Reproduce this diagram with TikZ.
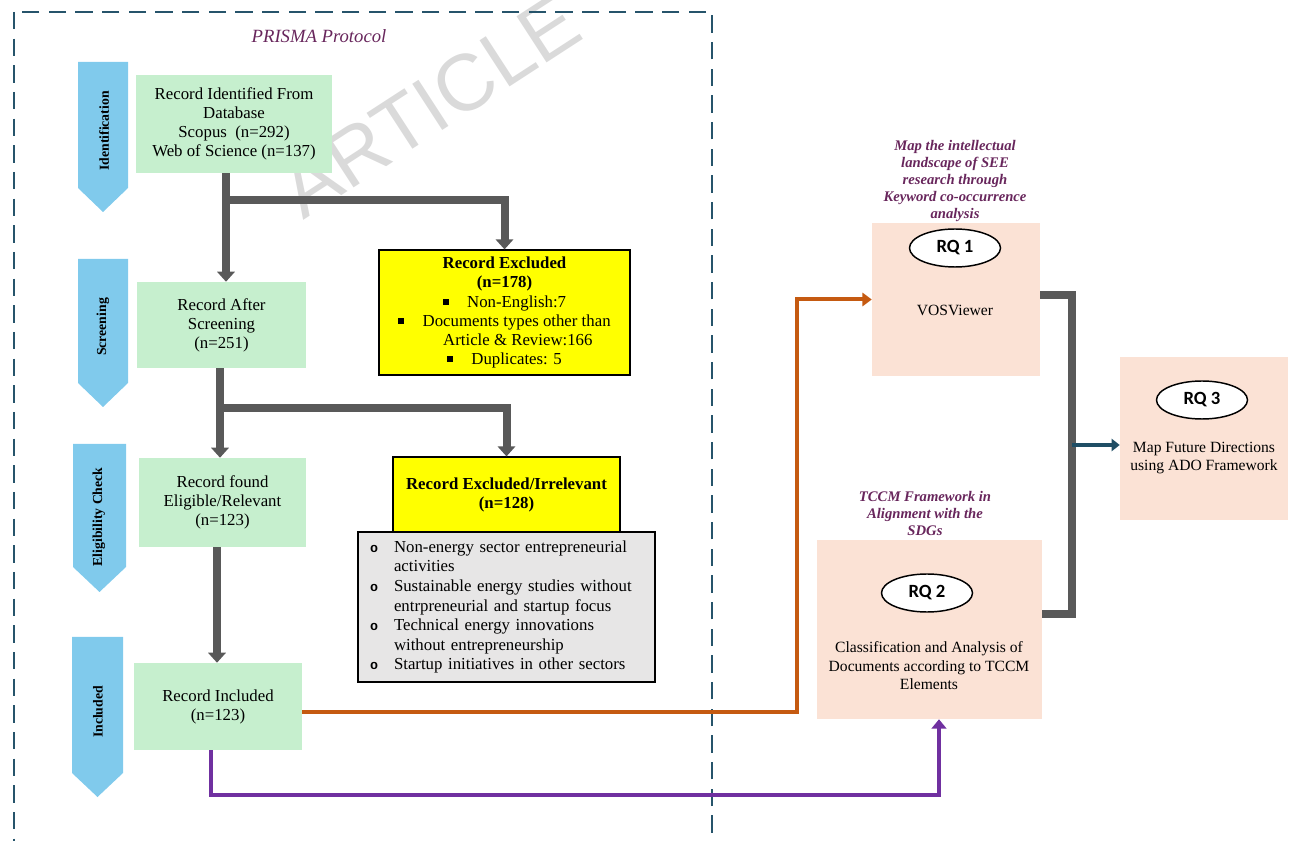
\documentclass[tikz,border=0pt]{standalone}
\usepackage{fontspec}
\setmainfont{Liberation Serif}
\newfontfamily\rqfont{Carlito}
\newfontfamily\wmfont{Liberation Sans}
\newfontfamily\bulfont{Liberation Mono}
\usetikzlibrary{arrows.meta,shapes.geometric}

\newdimen\px \px=0.75pt

\definecolor{boxgreen}{RGB}{198,239,206}
\definecolor{stageblue}{RGB}{128,202,236}
\definecolor{exclyellow}{RGB}{255,255,0}
\definecolor{listgrey}{RGB}{231,230,230}
\definecolor{rqpeach}{RGB}{251,226,213}
\definecolor{flowgrey}{RGB}{89,89,89}
\definecolor{flowpurple}{RGB}{112,48,160}
\definecolor{floworange}{RGB}{197,90,17}
\definecolor{flowteal}{RGB}{31,78,101}
\definecolor{captionpurple}{RGB}{104,38,92}
\definecolor{frameteal}{RGB}{38,84,107}
\definecolor{markgrey}{RGB}{218,218,218}

\newcommand\bodyfont{\fontsize{12.6}{14.3}\selectfont}
\newcommand\sqbul{\raisebox{1.8pt}{\rule{4.2pt}{4.2pt}}}
\newcommand\obul{\makebox[18pt][l]{\bulfont\bfseries\fontsize{10}{10}\selectfont o}}
\newcommand\oind{\hspace*{18pt}}

\tikzset{
  gbox/.style={fill=boxgreen, inner sep=0pt, align=center, font=\bodyfont},
  ybox/.style={fill=exclyellow, draw=black, line width=0.9pt, inner sep=0pt, align=center, font=\bodyfont},
  listbox/.style={fill=listgrey, draw=black, line width=0.9pt, inner xsep=9pt, inner ysep=0pt, align=left,
                  font=\fontsize{12.6}{14.7}\selectfont},
  pbox/.style={fill=rqpeach, inner sep=0pt},
  rqoval/.style={ellipse, draw=black, line width=1.1pt, fill=white, inner sep=0pt,
                 minimum width=91\px, minimum height=38\px, font=\rqfont\bfseries\fontsize{14}{16}\selectfont},
  rqtext/.style={align=center, inner sep=0pt, font=\fontsize{11.7}{13.9}\selectfont},
  rqcaption/.style={align=center, inner sep=0pt, text=captionpurple,
                    font=\bfseries\itshape\fontsize{11}{12.75}\selectfont},
  stage/.style={fill=stageblue},
  stagelabel/.style={rotate=90, inner sep=0pt, font=\bfseries\fontsize{10.3}{12}\selectfont},
  greyflow/.style={draw=flowgrey, line width=6pt},
  greyarrow/.style={greyflow, -{Triangle[width=13pt,length=7.5pt]}},
  orangearrow/.style={draw=floworange, line width=3pt, -{Triangle[width=10pt,length=7pt]}},
  purplearrow/.style={draw=flowpurple, line width=3.4pt, -{Triangle[width=11pt,length=7pt]}},
  tealarrow/.style={draw=flowteal, line width=3pt, -{Triangle[width=9pt,length=6pt]}},
  frame/.style={draw=frameteal, line width=1.4pt, dash pattern=on 13pt off 7pt},
}

\begin{document}
\begin{tikzpicture}[x=0.75pt, y=-0.75pt]
\useasboundingbox (0,0) rectangle (1290,841);
\clip (0,0) rectangle (1290,841);

% watermark
\node[rotate=33, text=markgrey, font=\wmfont\fontsize{60}{60}\selectfont, inner sep=0pt] (wm) at (430,106) {ARTICLE};

% PRISMA frame
\draw[frame] (14,12) rectangle (712,900);
\node[text=captionpurple, font=\itshape\fontsize{14}{16}\selectfont, inner sep=0pt] (title) at (319,36) {PRISMA Protocol};

% stage chevrons
\fill[stage] (78,62) -- (128,62) -- (128,188) -- (103,212) -- (78,188) -- cycle;
\fill[stage] (78,259) -- (128,259) -- (128,383) -- (103,407) -- (78,383) -- cycle;
\fill[stage] (73,444) -- (126,444) -- (126,567) -- (99.5,592) -- (73,567) -- cycle;
\fill[stage] (72,637) -- (123,637) -- (123,773) -- (97.5,797) -- (72,773) -- cycle;
\node[stagelabel] (s1) at (104,131) {Identification};
\node[stagelabel] (s2) at (103,327) {Screening};
\node[stagelabel] (s3) at (99,517) {Eligibility Check};
\node[stagelabel] (s4) at (98,712) {Included};

% record boxes
\node[gbox, minimum width=196\px, minimum height=98\px] (b1) at (234,124)
  {Record Identified From\\Database\\Scopus\ \ (n=292)\\Web of Science (n=137)};
\node[gbox, minimum width=169\px, minimum height=86\px] (b2) at (221.5,325)
  {Record After\\Screening\\(n=251)};
\node[gbox, minimum width=167\px, minimum height=89\px] (b3) at (222.5,502.5)
  {Record found\\Eligible/Relevant\\(n=123)};
\node[gbox, minimum width=168\px, minimum height=87\px] (b4) at (218,706.5)
  {Record Included\\(n=123)};

% exclusion boxes
\node[ybox, minimum width=251\px, minimum height=125\px] (y1) at (504.5,312.5)
  {\textbf{Record Excluded}\\\textbf{(n=178)}\\
   \sqbul\hspace{14pt}Non-English:7\\
   \sqbul\hspace{14pt}Documents types other than\\
   \hspace{20pt}Article \& Review:166\\
   \sqbul\hspace{14pt}Duplicates: 5};
\node[ybox, minimum width=227\px, minimum height=75\px] (y2) at (506.5,494.5)
  {\textbf{Record Excluded/Irrelevant}\\\textbf{(n=128)}};
\node[listbox, minimum width=291\px, minimum height=150\px, text width=273\px] (g1) at (506.5,607)
  {\obul Non-energy sector entrepreneurial\\
   \oind activities\\
   \obul Sustainable energy studies without\\
   \oind entrpreneurial and startup focus\\
   \obul Technical energy innovations\\
   \oind without entrepreneurship\\
   \obul Startup initiatives in other sectors};

% PRISMA flow
\coordinate (a1) at (226,0);
\coordinate (a2) at (220,0);
\coordinate (a3) at (217,0);
\coordinate (j1) at (226,200);
\coordinate (j2) at (220,408);
\draw[greyarrow] (b1.south -| a1) -- (b2.north -| a1);
\draw[greyarrow] (j1) -| (y1.north);
\draw[greyarrow] (b2.south -| a2) -- (b3.north -| a2);
\draw[greyarrow] (j2) -| (y2.north);
\draw[greyarrow] (b3.south -| a3) -- (b4.north -| a3);

% research question boxes
\node[pbox, minimum width=168\px, minimum height=153\px] (r1) at (956,299.5) {};
\node[rqoval] (e1) at (955,248) {RQ 1};
\node[rqtext] (t1) at (955,310) {VOSViewer};
\node[rqcaption] (c1) at (955,181)
  {Map the intellectual\\landscape of SEE\\research through\\Keyword co-occurrence\\analysis};

\node[pbox, minimum width=225\px, minimum height=179\px] (r2) at (929.5,629.5) {};
\node[rqoval] (e2) at (927,593) {RQ 2};
\node[rqtext] (t2) at (929,666)
  {Classification and Analysis of\\Documents according to TCCM\\Elements};
\node[rqcaption] (c2) at (925,513) {TCCM Framework in\\Alignment with the\\SDGs};

\node[pbox, minimum width=168\px, minimum height=163\px] (r3) at (1204,438.5) {};
\node[rqoval] (e3) at (1202,400) {RQ 3};
\node[rqtext] (t3) at (1204,458) {Map Future Directions\\using ADO Framework};

% links from included records to the research questions
\coordinate (ox) at (797,712);
\draw[orangearrow] (b4.east |- ox) -- (ox) -- (ox |- r1.west) -- (r1.west);
\coordinate (pl) at (211,795);
\coordinate (pr) at (939,795);
\draw[purplearrow] (b4.south -| pl) -- (pl) -- (pr) -- (r2.south -| pr);

% RQ1 and RQ2 feed RQ3
\coordinate (gt) at (1072,295);
\coordinate (gb) at (1072,614);
\coordinate (gm) at (1072,445);
\draw[greyflow, line width=5.5pt] (r1.east |- gt) -- (gt) -- (gb) -- (r2.east |- gb);
\draw[tealarrow] (gm) -- (r3.west |- gm);
\end{tikzpicture}
\end{document}
